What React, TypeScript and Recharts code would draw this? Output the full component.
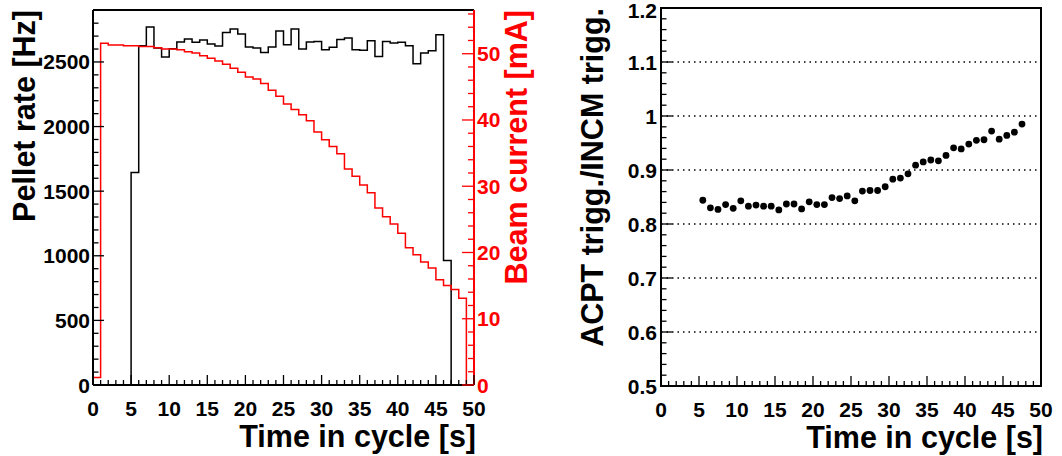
import React from "react";
import {
  ComposedChart,
  ScatterChart,
  Line,
  Scatter,
  XAxis,
  YAxis,
  ReferenceLine,
  ReferenceArea,
} from "recharts";

// lower edges of the 1 s time bins, plus the closing edge at 50 s
const binEdges = [
  0, 1, 2, 3, 4, 5, 6, 7, 8, 9, 10, 11, 12, 13, 14, 15, 16, 17, 18, 19, 20, 21, 22, 23, 24,
  25, 26, 27, 28, 29, 30, 31, 32, 33, 34, 35, 36, 37, 38, 39, 40, 41, 42, 43, 44, 45, 46, 47,
  48, 49, 50,
];

// pellet rate per bin [Hz]
const pelletRate = [
  0, 0, 0, 0, 0, 1645, 2626, 2771, 2608, 2539, 2603, 2655, 2678, 2652, 2670, 2639, 2624,
  2727, 2755, 2717, 2616, 2608, 2574, 2616, 2740, 2634, 2755, 2601, 2655, 2659, 2595, 2613,
  2673, 2686, 2595, 2590, 2665, 2543, 2659, 2647, 2652, 2626, 2487, 2570, 2587, 2711, 964, 0,
  0, 0,
];

// beam current per bin [mA]
const beamCurrent = [
  1.15, 51.6, 51.3, 51.3, 51.2, 51.2, 51.1, 51.1, 50.9, 50.7, 50.7, 50.6, 50.3, 50.1, 49.7,
  49.3, 48.9, 48.4, 47.8, 47.2, 46.5, 46.2, 45.5, 44.5, 43.6, 42.4, 41.6, 40.8, 39.9, 38.2,
  37.0, 36.0, 34.9, 32.6, 31.5, 30.2, 29.0, 26.7, 25.4, 24.3, 22.9, 20.7, 19.65, 18.55, 17.65,
  15.9, 15.0, 14.4, 13.1, 0,
];

// ACPT / INCM trigger ratio, at bin centres
const ratioTimes = [
  5.5, 6.5, 7.5, 8.5, 9.5, 10.5, 11.5, 12.5, 13.5, 14.5, 15.5, 16.5, 17.5, 18.5, 19.5, 20.5,
  21.5, 22.5, 23.5, 24.5, 25.5, 26.5, 27.5, 28.5, 29.5, 30.5, 31.5, 32.5, 33.5, 34.5, 35.5,
  36.5, 37.5, 38.5, 39.5, 40.5, 41.5, 42.5, 43.5, 44.5, 45.5, 46.5, 47.5,
];
const ratioValues = [
  0.844, 0.83, 0.827, 0.836, 0.829, 0.843, 0.833, 0.835, 0.833, 0.833, 0.826, 0.837, 0.837,
  0.828, 0.841, 0.836, 0.836, 0.849, 0.847, 0.852, 0.843, 0.861, 0.862, 0.862, 0.869, 0.883,
  0.885, 0.893, 0.909, 0.915, 0.9185, 0.917, 0.927, 0.941, 0.939, 0.948, 0.955, 0.956, 0.972,
  0.957, 0.964, 0.97, 0.985,
];

// tick positions
const timeTicks = binEdges;
const rateTicks = Array.from({ length: 30 }, (_, i) => i * 100);
const currentTicks = Array.from({ length: 29 }, (_, i) => i * 2);
const ratioTicks = Array.from({ length: 36 }, (_, i) => (50 + 2 * i) / 100);
const gridLevels = [0.6, 0.7, 0.8, 0.9, 1.0, 1.1];

const histData = binEdges.map((t, i) => ({
  t,
  rate: pelletRate[Math.min(i, pelletRate.length - 1)],
  current: beamCurrent[Math.min(i, beamCurrent.length - 1)],
}));
const ratioData = ratioTimes.map((t, i) => ({ t, r: ratioValues[i] }));

const FONT = "'Liberation Sans', Arial, Helvetica, sans-serif";
const RED = "#ff0000";

const labelStyle = {
  fontFamily: FONT,
  fontWeight: 700,
  fontSize: 21,
};

const TimeTick = (props: any) => {
  const { x, y, payload } = props;
  const major = payload.value % 5 === 0;
  return (
    <g>
      <line x1={x} x2={x} y1={y} y2={y - (major ? 10 : 5)} stroke="#000" strokeWidth={1.3} />
      {major && (
        <text x={x} y={y + 23} textAnchor="middle" dominantBaseline="central" fill="#000" style={labelStyle}>
          {payload.value}
        </text>
      )}
    </g>
  );
};

const RateTick = (props: any) => {
  const { x, y, payload } = props;
  const major = payload.value % 500 === 0;
  return (
    <g>
      <line x1={x} x2={x + (major ? 11 : 5.5)} y1={y} y2={y} stroke="#000" strokeWidth={1.3} />
      {major && (
        <text x={x - 3} y={y} textAnchor="end" dominantBaseline="central" fill="#000" style={labelStyle}>
          {payload.value}
        </text>
      )}
    </g>
  );
};

const CurrentTick = (props: any) => {
  const { x, y, payload } = props;
  const major = payload.value % 10 === 0;
  return (
    <g>
      <line x1={x} x2={x - (major ? 12 : 6)} y1={y} y2={y} stroke={RED} strokeWidth={1.3} />
      {major && (
        <text x={x + 3} y={y} textAnchor="start" dominantBaseline="central" fill={RED} style={labelStyle}>
          {payload.value}
        </text>
      )}
    </g>
  );
};

const RatioTick = (props: any) => {
  const { x, y, payload } = props;
  const h = Math.round(payload.value * 100);
  const major = h % 10 === 0;
  const txt = h === 100 ? "1" : (h / 100).toFixed(1);
  return (
    <g>
      <line x1={x} x2={x + (major ? 11 : 5.5)} y1={y} y2={y} stroke="#000" strokeWidth={1.3} />
      {major && (
        <text
          x={x - 4}
          y={h === 120 ? y + 2 : y}
          textAnchor="end"
          dominantBaseline="central"
          fill="#000"
          style={labelStyle}
        >
          {txt}
        </text>
      )}
    </g>
  );
};

const titleStyle = { fontFamily: FONT, fontWeight: 700, fontSize: 30.5 };

const yTitle = (text: string, dx: number, color: string) => (props: any) => {
  const vb = props.viewBox || { x: 0, y: 0 };
  const cx = vb.x + dx;
  const cy = vb.y;
  return (
    <text
      x={cx}
      y={cy}
      transform={`rotate(-90, ${cx}, ${cy})`}
      textAnchor="end"
      dominantBaseline="central"
      fill={color}
      style={titleStyle}
    >
      {text}
    </text>
  );
};

const xTitle = (text: string) => (props: any) => {
  const vb = props.viewBox || { x: 0, y: 0, width: 0 };
  return (
    <text x={vb.x + vb.width + 2} y={vb.y + 62} textAnchor="end" fill="#000" style={titleStyle}>
      {text}
    </text>
  );
};

function PelletChart() {
  return (
    <ComposedChart
      width={540}
      height={456}
      data={histData}
      margin={{ top: 10, right: 6, bottom: 41, left: 0 }}
    >
      <XAxis
        dataKey="t"
        type="number"
        domain={[0, 50]}
        ticks={timeTicks}
        interval={0}
        tickSize={0}
        tickMargin={0}
        tick={TimeTick}
        height={30}
        axisLine={{ stroke: "#000", strokeWidth: 2 }}
        label={xTitle("Time in cycle [s]")}
      />
      <YAxis
        yAxisId="left"
        type="number"
        domain={[0, 2902]}
        ticks={rateTicks}
        interval={0}
        tickSize={0}
        tickMargin={0}
        tick={RateTick}
        width={93}
        axisLine={{ stroke: "#000", strokeWidth: 2 }}
        label={yTitle("Pellet rate [Hz]", 24, "#000")}
      />
      <YAxis
        yAxisId="right"
        orientation="right"
        type="number"
        domain={[0, 56.6]}
        ticks={currentTicks}
        interval={0}
        tickSize={0}
        tickMargin={0}
        tick={CurrentTick}
        width={60}
        axisLine={{ stroke: RED, strokeWidth: 2 }}
        label={yTitle("Beam current [mA]", 42, RED)}
      />
      <ReferenceLine yAxisId="left" y={2902} stroke="#000" strokeWidth={2} />
      <Line
        yAxisId="left"
        type="stepAfter"
        dataKey="rate"
        stroke="#000"
        strokeWidth={1.5}
        dot={false}
        isAnimationActive={false}
      />
      <Line
        yAxisId="right"
        type="stepAfter"
        dataKey="current"
        stroke={RED}
        strokeWidth={1.5}
        dot={false}
        isAnimationActive={false}
      />
    </ComposedChart>
  );
}

function RatioChart() {
  return (
    <ScatterChart width={522} height={456} margin={{ top: 8, right: 21, bottom: 40, left: 0 }}>
      <XAxis
        dataKey="t"
        type="number"
        domain={[0, 50]}
        ticks={timeTicks}
        interval={0}
        tickSize={0}
        tickMargin={0}
        tick={TimeTick}
        height={30}
        axisLine={{ stroke: "#000", strokeWidth: 2 }}
        label={xTitle("Time in cycle [s]")}
      />
      <YAxis
        dataKey="r"
        type="number"
        domain={[0.5, 1.2]}
        ticks={ratioTicks}
        interval={0}
        tickSize={0}
        tickMargin={0}
        tick={RatioTick}
        width={121}
        axisLine={{ stroke: "#000", strokeWidth: 2 }}
        label={yTitle("ACPT trigg./INCM trigg.", 52, "#000")}
      />
      {gridLevels.map((g) => (
        <ReferenceLine key={g} y={g} stroke="#000" strokeWidth={1.5} strokeDasharray="1.5 4" />
      ))}
      <ReferenceArea x1={0} x2={50} y1={0.5} y2={1.2} fill="none" stroke="#000" strokeWidth={2} />
      <Scatter
        data={ratioData}
        fill="#000"
        isAnimationActive={false}
        shape={(p: any) => <circle cx={p.cx} cy={p.cy} r={3.4} fill="#000" />}
      />
    </ScatterChart>
  );
}

export default function App() {
  return (
    <div style={{ position: "absolute", left: 0, top: 0, width: 1062, height: 456, background: "#fff" }}>
      <div style={{ position: "absolute", left: 0, top: 0 }}>
        <PelletChart />
      </div>
      <div style={{ position: "absolute", left: 540, top: 0 }}>
        <RatioChart />
      </div>
    </div>
  );
}
